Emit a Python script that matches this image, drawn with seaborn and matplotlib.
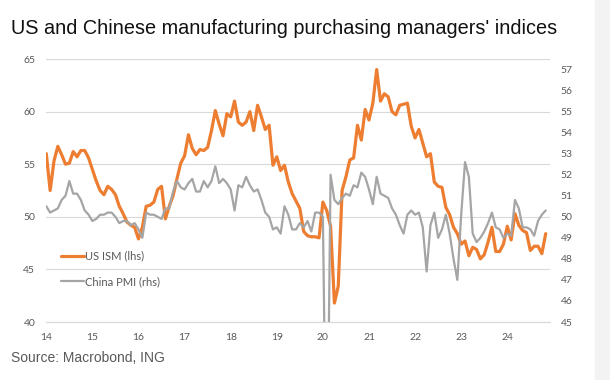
import numpy as np
import pandas as pd
import matplotlib
matplotlib.use("Agg")
from matplotlib import pyplot as plt
import seaborn as sns

# monthly values, Jan 2014 - Nov 2024
us_ism = [
    56.0, 52.5, 55.3, 56.7, 55.9, 55.0, 55.1, 56.2, 55.7, 56.3, 56.3, 55.6,  # 2014
    54.5, 53.4, 52.5, 52.1, 52.9, 52.6, 52.1, 51.0, 50.3, 49.5, 49.2, 49.0,  # 2015
    47.9, 49.0, 51.0, 51.1, 51.4, 52.6, 52.9, 49.8, 51.0, 52.0, 53.6, 55.1,  # 2016
    55.8, 57.8, 56.5, 55.9, 56.4, 56.3, 56.6, 58.2, 60.1, 58.8, 57.7, 59.8,  # 2017
    59.5, 61.0, 59.0, 58.7, 59.0, 60.0, 58.2, 60.6, 59.5, 58.3, 58.7, 54.9,  # 2018
    55.7, 54.4, 54.9, 53.3, 52.2, 51.5, 50.8, 48.6, 48.2, 48.1, 48.1, 48.0,  # 2019
    51.4, 50.6, 49.1, 41.8, 43.4, 52.5, 53.8, 55.4, 55.6, 58.7, 57.3, 60.2,  # 2020
    59.2, 60.8, 64.0, 61.0, 61.7, 61.4, 60.0, 59.7, 60.6, 60.7, 60.8, 58.6,  # 2021
    57.5, 58.3, 57.0, 55.7, 56.0, 53.3, 52.9, 52.8, 50.9, 50.2, 49.0, 48.4,  # 2022
    47.4, 47.7, 46.3, 47.1, 46.9, 46.0, 46.4, 47.6, 49.0, 46.7, 46.7, 47.4,  # 2023
    49.1, 47.8, 50.3, 49.2, 48.7, 48.5, 46.8, 47.2, 47.2, 46.5, 48.4,        # 2024
]
china_pmi = [
    50.5, 50.2, 50.3, 50.4, 50.8, 51.0, 51.7, 51.1, 51.1, 50.8, 50.3, 50.1,  # 2014
    49.8, 49.9, 50.1, 50.1, 50.2, 50.2, 50.0, 49.7, 49.8, 49.8, 49.6, 49.7,  # 2015
    49.4, 49.0, 50.2, 50.1, 50.1, 50.0, 49.9, 50.4, 50.4, 51.2, 51.7, 51.4,  # 2016
    51.3, 51.6, 51.8, 51.2, 51.2, 51.7, 51.4, 51.7, 52.4, 51.6, 51.8, 51.6,  # 2017
    51.3, 50.3, 51.5, 51.4, 51.9, 51.5, 51.2, 51.3, 50.8, 50.2, 50.0, 49.4,  # 2018
    49.5, 49.2, 50.5, 50.1, 49.4, 49.4, 49.7, 49.5, 49.8, 49.3, 50.2, 50.2,  # 2019
    50.0, 35.7, 52.0, 50.8, 50.6, 50.9, 51.1, 51.0, 51.5, 51.4, 52.1, 51.9,  # 2020
    51.3, 50.6, 51.9, 51.1, 51.0, 50.9, 50.4, 50.1, 49.6, 49.2, 50.1, 50.3,  # 2021
    50.1, 50.2, 49.5, 47.4, 49.6, 50.2, 49.0, 49.4, 50.1, 49.2, 48.0, 47.0,  # 2022
    50.1, 52.6, 51.9, 49.2, 48.8, 49.0, 49.3, 49.7, 50.2, 49.5, 49.4, 49.0,  # 2023
    49.2, 49.1, 50.8, 50.4, 49.5, 49.5, 49.4, 49.1, 49.8, 50.1, 50.3,        # 2024
]
year_ticks = list(range(2014, 2025))
year_labels = [str(y)[2:] for y in year_ticks]
lhs_ticks = [40, 45, 50, 55, 60, 65]
rhs_ticks = list(range(45, 58))

months = pd.date_range("2014-01-01", periods=len(us_ism), freq="MS")
df = pd.DataFrame({
    "t": months.year + (months.month - 1) / 12,
    "us": us_ism,
    "cn": china_pmi,
})

sns.set_style("white")
plt.rcParams["font.family"] = ["Lato", "DejaVu Sans"]

ORANGE = "#ED7D31"
GREY = "#A5A5A5"
GRID = "#d9d9d9"
TXT = "#595959"

fig = plt.figure(figsize=(6.1, 3.8), dpi=100)
fig.patches.append(plt.Rectangle((595 / 610, 0), 15 / 610, 1, transform=fig.transFigure,
                                 color="#f3f3f3", zorder=0))
ax = fig.add_axes([46.3 / 610, 1 - 322 / 380, 503.4 / 610, 263 / 380])
ax2 = ax.twinx()

sns.lineplot(data=df, x="t", y="us", ax=ax, color=ORANGE, lw=2.3, label="US ISM (lhs)", legend=False)
sns.lineplot(data=df, x="t", y="cn", ax=ax2, color=GREY, lw=1.6, label="China PMI (rhs)", legend=False)

ax.set_xlim(2014, 2024.92)
ax.set_ylim(40, 65)
ax2.set_ylim(45, 57.5)
ax.set_yticks(lhs_ticks)
ax2.set_yticks(rhs_ticks)
ax.set_xticks(year_ticks)
ax.set_xticklabels(year_labels)
ax.set_xlabel("")
ax.set_ylabel("")
ax2.set_ylabel("")

ax.grid(axis="y", color=GRID, lw=0.8)
ax.set_axisbelow(True)
for a in (ax, ax2):
    for s in ("top", "left", "right"):
        a.spines[s].set_visible(False)
    a.spines["bottom"].set_color(GRID)
    a.spines["bottom"].set_linewidth(0.8)

ax.tick_params(axis="x", colors=TXT, labelsize=7.5, length=3, width=0.8, color=GRID, pad=5)
ax.tick_params(axis="y", colors=TXT, labelsize=7.5, length=0, pad=8)
ax2.tick_params(axis="y", colors=TXT, labelsize=7.5, length=0, pad=8)

h1, l1 = ax.get_legend_handles_labels()
h2, l2 = ax2.get_legend_handles_labels()
leg = ax2.legend(h1 + h2, l1 + l2, loc="upper left", bbox_to_anchor=(0.03, 0.272),
                 frameon=False, fontsize=8, handlelength=2.0, handletextpad=0.15,
                 labelspacing=1.3, borderpad=0, borderaxespad=0)
for t in leg.get_texts():
    t.set_color(TXT)

fig.text(11 / 610, 1 - 28 / 380, "US and Chinese manufacturing purchasing managers' indices",
         fontsize=14.3, color="#111111", va="center", ha="left", family=["Liberation Sans", "DejaVu Sans"])
fig.text(11 / 610, 1 - 358 / 380, "Source: Macrobond, ING",
         fontsize=10, color=TXT, va="center", ha="left", family=["Liberation Sans", "DejaVu Sans"])

fig.savefig("out.png", dpi=100)
